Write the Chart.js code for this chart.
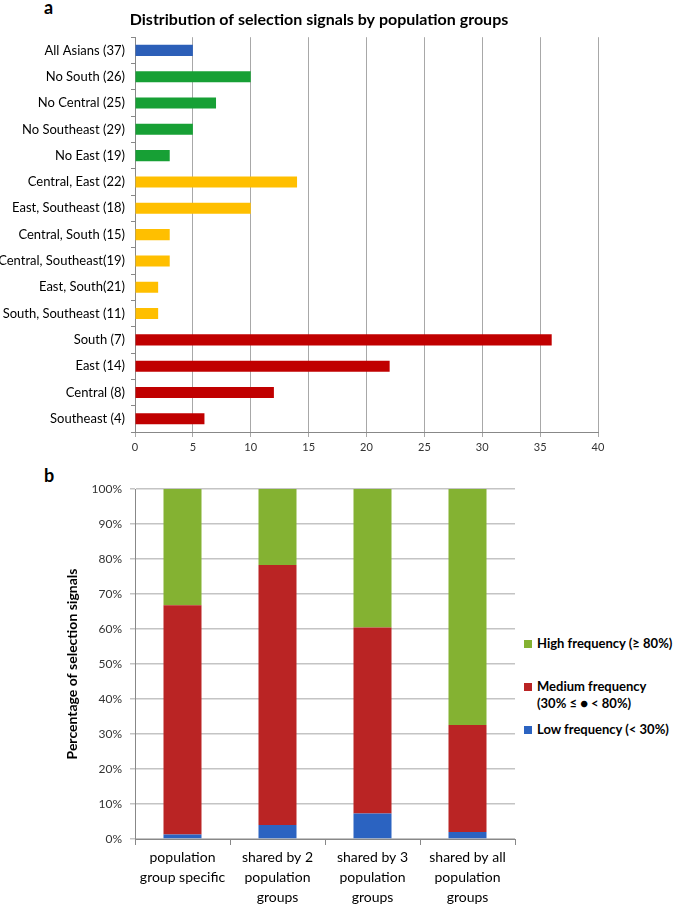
<!DOCTYPE html>
<html>
<head>
<meta charset="utf-8">
<script src="https://cdn.jsdelivr.net/npm/chart.js@4"></script>
<style>
  body { margin: 0; background: #fff; font-family: Lato, sans-serif; }
  #wrap { position: relative; width: 673px; height: 906px; overflow: hidden; }
  canvas { position: absolute; left: 0; }
  .panel { position: absolute; font-weight: bold; font-size: 18px; color: #000; }
  #legend { position: absolute; left: 524px; top: 635px; font-weight: bold; font-size: 13px; color: #000; }
  #legend div { position: relative; padding-left: 13px; line-height: 17px; }
  #legend span { position: absolute; left: 0; top: 5px; width: 8px; height: 8px; }
</style>
</head>
<body>
<div id="wrap">
  <div class="panel" style="left:44px;top:-4px">a</div>
  <div class="panel" style="left:44px;top:464px">b</div>
  <canvas id="groupChart" width="640" height="460" style="top:0"></canvas>
  <canvas id="freqChart" width="520" height="451" style="top:455px"></canvas>
  <div id="legend"></div>
</div>
<script>
const groupLabels = [
  "All Asians (37)", "No South (26)", "No Central (25)", "No Southeast (29)", "No East (19)",
  "Central, East (22)", "East, Southeast (18)", "Central, South (15)", "Central, Southeast(19)",
  "East, South(21)", "South, Southeast (11)", "South (7)", "East (14)", "Central (8)", "Southeast (4)",
];
const groupSignals = [5, 10, 7, 5, 3, 14, 10, 3, 3, 2, 2, 36, 22, 12, 6];
const groupKinds = ["all", "three", "three", "three", "three", "two", "two", "two", "two", "two", "two", "one", "one", "one", "one"];
const kindColors = { all: "#2c5fb8", three: "#17a035", two: "#ffbf00", one: "#c00000" };

const shareLabels = [
  ["population", "group specific"],
  ["shared by 2", "population", "groups"],
  ["shared by 3", "population", "groups"],
  ["shared by all", "population", "groups"],
];
const lowShare = [1.3, 4.0, 7.3, 2.0];
const mediumShare = [65.5, 74.3, 53.1, 30.6];
const highShare = [33.2, 21.7, 39.6, 67.4];
const freqNames = ["High frequency (≥ 80%)", "Medium frequency\n(30% ≤ ● < 80%)", "Low frequency (< 30%)"];
const freqColors = ["#84b232", "#ba2424", "#2b63c1"];

const font = "Lato, 'Open Sans', sans-serif";

// the original title sits a little right of the canvas centre
const nudgeTitle = {
  id: "nudgeTitle",
  afterLayout(chart) {
    if (chart.titleBlock) chart.titleBlock.left += 40;
  },
};

new Chart(document.getElementById("groupChart"), {
  type: "bar",
  data: {
    labels: groupLabels,
    datasets: [{
      data: groupSignals,
      backgroundColor: groupKinds.map((k) => kindColors[k]),
      categoryPercentage: 1,
      barPercentage: 0.42,
    }],
  },
  plugins: [nudgeTitle],
  options: {
    indexAxis: "y",
    responsive: false,
    animation: false,
    layout: { padding: { right: 42, left: 0, top: 0, bottom: 0 } },
    plugins: {
      legend: { display: false },
      tooltip: { enabled: false },
      title: {
        display: true,
        text: "Distribution of selection signals by population groups",
        color: "#000",
        font: { family: font, size: 16, weight: "bold" },
        padding: { top: 10, bottom: 8 },
      },
    },
    scales: {
      x: {
        min: 0, max: 40,
        ticks: { stepSize: 5, color: "#333", font: { family: font, size: 11 }, padding: 4 },
        grid: { color: "#a8a8a8", tickLength: 5 },
        border: { color: "#888" },
        afterFit: (s) => { s.height = 28; },
      },
      y: {
        ticks: { color: "#000", font: { family: font, size: 13 }, padding: 6, autoSkip: false },
        grid: { drawOnChartArea: false, tickLength: 4, color: "#888" },
        border: { color: "#888" },
        afterFit: (s) => { s.width = 135; },
      },
    },
  },
});

new Chart(document.getElementById("freqChart"), {
  type: "bar",
  data: {
    labels: shareLabels,
    datasets: [
      { label: freqNames[2], data: lowShare, backgroundColor: freqColors[2] },
      { label: freqNames[1], data: mediumShare, backgroundColor: freqColors[1] },
      { label: freqNames[0], data: highShare, backgroundColor: freqColors[0] },
    ].map((d) => ({ ...d, categoryPercentage: 1, barPercentage: 0.4 })),
  },
  options: {
    responsive: false,
    animation: false,
    layout: { padding: { top: 34, right: 5, left: 0, bottom: 0 } },
    plugins: { legend: { display: false }, tooltip: { enabled: false } },
    scales: {
      x: {
        stacked: true,
        ticks: { color: "#000", font: { family: font, size: 14, lineHeight: 1.45 }, padding: 2, maxRotation: 0 },
        grid: { drawOnChartArea: false, tickLength: 6, color: "#888" },
        border: { color: "#888" },
        afterFit: (s) => { s.height = 67; },
      },
      y: {
        stacked: true,
        min: 0, max: 100,
        ticks: { stepSize: 10, color: "#333", font: { family: font, size: 12 }, padding: 8, callback: (v) => v + "%" },
        grid: { color: "#c4c4c4", lineWidth: 1.5, tickLength: 5 },
        border: { color: "#888" },
        title: {
          display: true,
          text: "Percentage of selection signals",
          color: "#000",
          font: { family: font, size: 14, weight: "bold" },
          padding: { top: 64, bottom: 0 },
        },
        afterFit: (s) => { s.width = 135; },
      },
    },
  },
});

const legend = document.getElementById("legend");
const gaps = [0, 26, 9];
freqNames.forEach((name, i) => {
  const row = document.createElement("div");
  row.style.marginTop = gaps[i] + "px";
  row.innerHTML = `<span style="background:${freqColors[i]}"></span>` + name.replace("\n", "<br>");
  legend.appendChild(row);
});
</script>
</body>
</html>
